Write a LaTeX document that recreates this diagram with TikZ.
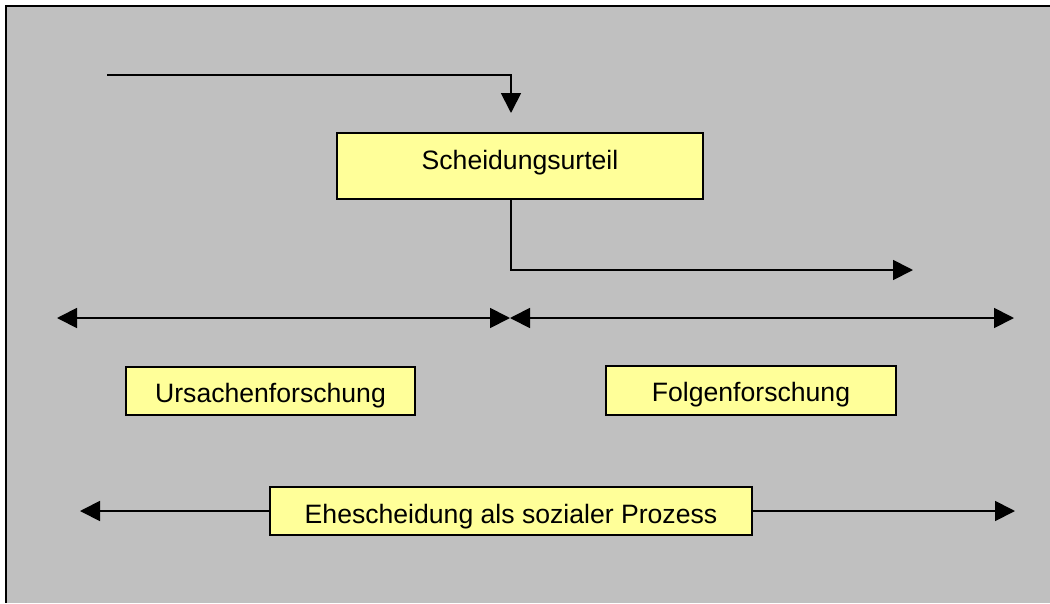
\documentclass[tikz,border=0pt]{standalone}
\usepackage{fontspec}
\setmainfont{Liberation Sans}
\usetikzlibrary{arrows.meta}
\definecolor{bg}{HTML}{C0C0C0}
\definecolor{boxy}{HTML}{FFFF99}
\begin{document}
\begin{tikzpicture}[x=1pt,y=-1pt,
  conn/.style={line width=1.8pt,-{Triangle[length=20pt,width=20pt]}},
  ybox/.style={draw,line width=1.6pt,fill=boxy,inner sep=0pt,font=\fontsize{26.6}{32}\selectfont,text height=22pt,text depth=0pt}]
\useasboundingbox (0,0) rectangle (1050,603);
\fill[white] (0,0) rectangle (1050,603);
\fill[bg] (7,7) rectangle (1050,603);
\draw[line width=2pt] (1050,6) -- (6,6) -- (6,603);

\node[ybox,minimum width=366pt,minimum height=66pt,text height=19pt,text depth=13pt] (S) at (520,166) {Scheidungsurteil};
\node[ybox,minimum width=289pt,minimum height=48pt] (U) at (270.5,391) {Ursachenforschung};
\node[ybox,minimum width=290pt,minimum height=49pt] (F) at (751,390.5) {Folgenforschung};
\node[ybox,minimum width=482pt,minimum height=48pt,text height=24pt] (E) at (511,511) {Ehescheidung als sozialer Prozess};

\coordinate (top0) at (107,75);
\coordinate (top1) at (511,113);
\draw[conn] (top0) -| (top1);

\coordinate (mid0) at (511,199);
\coordinate (mid1) at (913,270);
\draw[conn] (mid0) |- (mid1);

\coordinate (L) at (57,318);
\coordinate (M) at (510,318);
\coordinate (R) at (1014,318);
\draw[conn,{Triangle[length=20pt,width=20pt]}-{Triangle[length=20pt,width=20pt]}] (L) -- (M);
\draw[conn,{Triangle[length=20pt,width=20pt]}-{Triangle[length=20pt,width=20pt]}] (M) -- (R);

\coordinate (BL) at (80,511);
\coordinate (BR) at (1015,511);
\draw[conn] (E.west) -- (BL);
\draw[conn] (E.east) -- (BR);
\end{tikzpicture}
\end{document}
